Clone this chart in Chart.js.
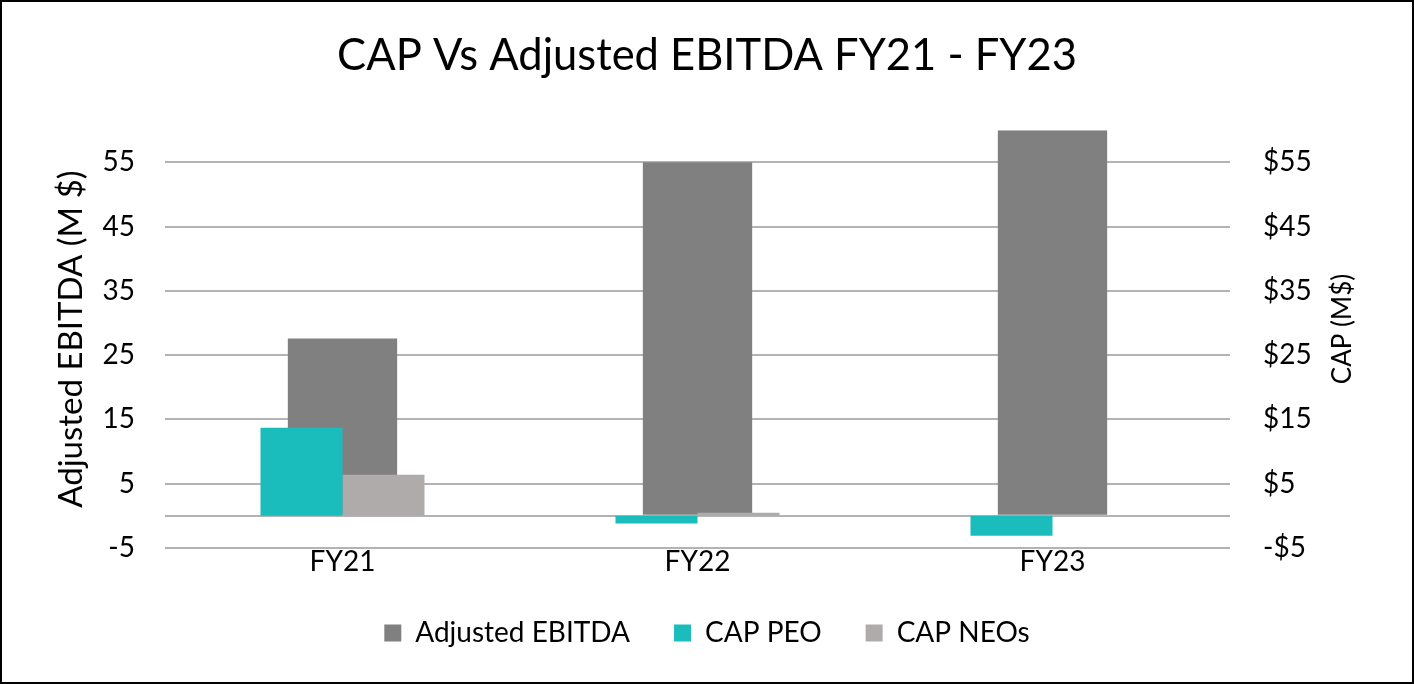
<!DOCTYPE html>
<html>
<head>
<meta charset="utf-8">
<script src="https://cdn.jsdelivr.net/npm/chart.js@4.4.1/dist/chart.umd.min.js"></script>
<style>
  html, body { margin: 0; padding: 0; background: #fff; }
  #wrap { width: 1414px; height: 684px; position: relative; }
</style>
</head>
<body>
<div id="wrap"><canvas id="capChart"></canvas></div>
<script>
const categories = ['FY21', 'FY22', 'FY23'];
const adjustedEbitda = [27.6, 55, 60];
const capPeo = [13.7, -1.2, -3.1];
const capNeos = [6.4, 0.5, 0];
// gridline positions; 0 gets a line but no label
const yTickValues = [-5, 0, 5, 15, 25, 35, 45, 55];

Chart.defaults.font.family = 'Lato';
Chart.defaults.color = '#000';

const frame = {
  id: 'frame',
  beforeDraw(chart) {
    const c = chart.ctx;
    c.save();
    c.fillStyle = '#fff';
    c.fillRect(0, 0, chart.width, chart.height);
    c.restore();
  },
  afterDraw(chart) {
    const c = chart.ctx;
    c.save();
    // right axis title reads bottom-to-top, like the left one
    c.translate(1343, 329);
    c.rotate(-Math.PI / 2);
    c.font = '26px Lato';
    c.fillStyle = '#000';
    c.textAlign = 'center';
    c.textBaseline = 'middle';
    c.fillText('CAP (M$)', 0, 0);
    c.restore();
    c.save();
    c.strokeStyle = '#000';
    c.lineWidth = 2;
    c.strokeRect(1, 1, chart.width - 2, chart.height - 2);
    c.restore();
  }
};

const setTicks = s => { s.ticks = yTickValues.map(v => ({ value: v })); };

const ctx = document.getElementById('capChart').getContext('2d');
const capChart = new Chart(ctx, {
  type: 'bar',
  data: {
    labels: categories,
    datasets: [
      {
        label: 'Adjusted EBITDA',
        data: adjustedEbitda,
        backgroundColor: '#808080',
        yAxisID: 'y',
        grouped: false,
        barPercentage: 0.308,
        categoryPercentage: 1,
        order: 2
      },
      {
        label: 'CAP PEO',
        data: capPeo,
        backgroundColor: '#1BBCBC',
        yAxisID: 'y2',
        barPercentage: 1,
        categoryPercentage: 0.462,
        order: 1
      },
      {
        label: 'CAP NEOs',
        data: capNeos,
        backgroundColor: '#AFABAB',
        yAxisID: 'y2',
        barPercentage: 1,
        categoryPercentage: 0.462,
        order: 1
      }
    ]
  },
  options: {
    responsive: true,
    maintainAspectRatio: false,
    animation: false,
    layout: { padding: { left: 0, right: 0, top: 0, bottom: 27 } },
    plugins: {
      title: {
        display: true,
        text: 'CAP Vs Adjusted EBITDA FY21 - FY23',
        font: { size: 43.5, weight: 'normal' },
        color: '#000',
        padding: { top: 30, bottom: 48 }
      },
      legend: {
        position: 'bottom',
        labels: {
          boxWidth: 17,
          boxHeight: 17,
          padding: 44,
          font: { size: 28 },
          color: '#000',
          sort: (a, b) => a.datasetIndex - b.datasetIndex
        }
      },
      tooltip: { enabled: false }
    },
    scales: {
      x: {
        offset: true,
        grid: { display: false },
        border: { display: false },
        ticks: { font: { size: 28 }, padding: -11 },
        afterFit: s => { s.height = 27; }
      },
      y: {
        position: 'left',
        min: -5,
        max: 60,
        afterBuildTicks: setTicks,
        grid: { color: '#B3B3B3', lineWidth: 2, drawTicks: false },
        border: { display: false },
        ticks: {
          font: { size: 28 },
          padding: 30,
          callback: v => (v === 0 ? '' : String(v))
        },
        title: {
          display: true,
          text: 'Adjusted EBITDA (M $)',
          font: { size: 33 },
          color: '#000',
          padding: { top: 52, bottom: 0 }
        },
        afterFit: s => { s.width = 165; }
      },
      y2: {
        position: 'right',
        min: -5,
        max: 60,
        afterBuildTicks: setTicks,
        grid: { display: false, drawTicks: false },
        border: { display: false },
        ticks: {
          font: { size: 28 },
          padding: 33,
          callback: v => (v === 0 ? '' : (v < 0 ? '-$' + Math.abs(v) : '$' + v))
        },
        afterFit: s => { s.width = 184; }
      }
    }
  },
  plugins: [frame]
});
</script>
</body>
</html>
